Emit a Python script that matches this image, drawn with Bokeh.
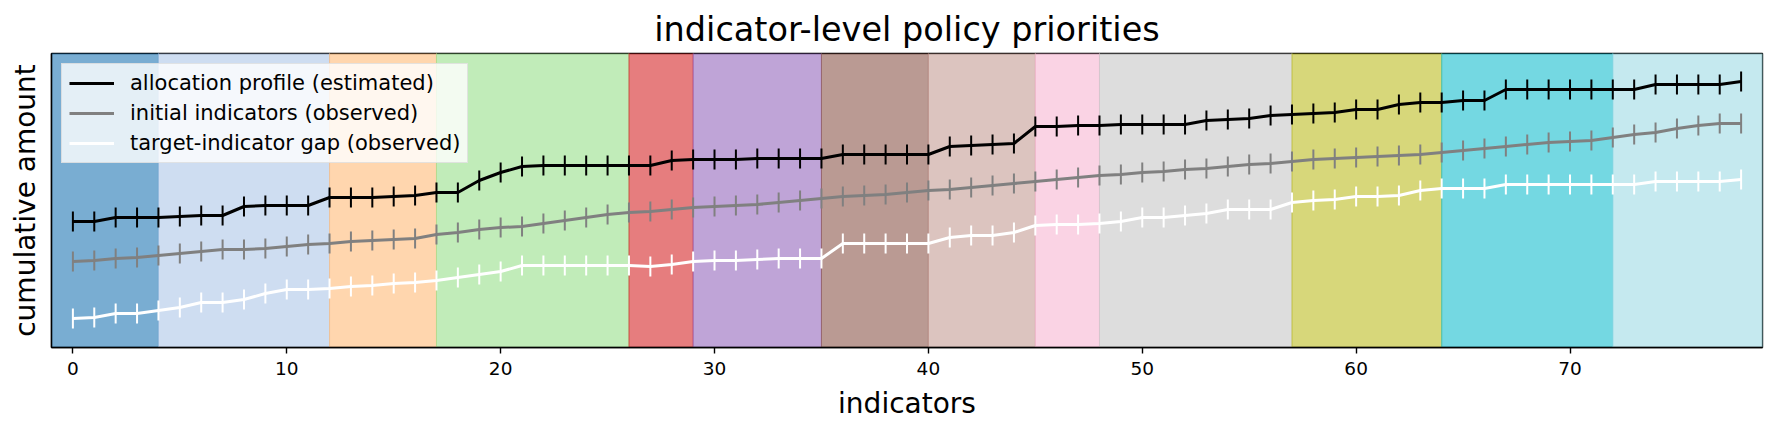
from bokeh.plotting import figure
from bokeh.models import Range1d, FixedTicker, ColumnDataSource
from bokeh.embed import file_html
from bokeh.resources import INLINE

# ---------------- data ----------------
indicators = list(range(79))

allocation_profile = [12.6, 12.6, 13.0, 13.0, 13.0, 13.1, 13.2, 13.2, 14.1, 14.2,
                      14.2, 14.2, 15.0, 15.0, 15.0, 15.1, 15.2, 15.5, 15.5, 16.7,
                      17.5, 18.1, 18.2, 18.2, 18.2, 18.2, 18.2, 18.2, 18.7, 18.8,
                      18.8, 18.8, 18.9, 18.9, 18.9, 18.9, 19.3, 19.3, 19.3, 19.3,
                      19.3, 20.1, 20.2, 20.3, 20.4, 22.1, 22.1, 22.2, 22.2, 22.3,
                      22.3, 22.3, 22.3, 22.7, 22.8, 22.9, 23.2, 23.3, 23.4, 23.5,
                      23.8, 23.8, 24.3, 24.5, 24.5, 24.7, 24.7, 25.8, 25.8, 25.8,
                      25.8, 25.8, 25.8, 25.8, 26.3, 26.3, 26.3, 26.3, 26.6]

initial_indicators = [8.6, 8.7, 8.9, 9.0, 9.2, 9.4, 9.6, 9.8, 9.8, 9.9,
                      10.1, 10.3, 10.4, 10.6, 10.7, 10.8, 10.9, 11.3, 11.5, 11.8,
                      12.0, 12.1, 12.4, 12.7, 13.0, 13.3, 13.5, 13.6, 13.8, 14.0,
                      14.1, 14.2, 14.3, 14.5, 14.7, 14.9, 15.1, 15.2, 15.3, 15.5,
                      15.7, 15.8, 16.0, 16.2, 16.4, 16.6, 16.8, 17.0, 17.2, 17.3,
                      17.5, 17.6, 17.8, 17.9, 18.1, 18.3, 18.4, 18.6, 18.8, 18.9,
                      19.0, 19.1, 19.2, 19.3, 19.5, 19.7, 19.9, 20.1, 20.3, 20.5,
                      20.6, 20.7, 21.0, 21.3, 21.5, 21.9, 22.2, 22.4, 22.4]

target_gap = [2.9, 3.0, 3.4, 3.4, 3.7, 4.0, 4.5, 4.5, 4.8, 5.4,
              5.8, 5.8, 5.9, 6.1, 6.2, 6.4, 6.5, 6.7, 7.0, 7.3,
              7.6, 8.2, 8.2, 8.2, 8.2, 8.2, 8.2, 8.1, 8.3, 8.6,
              8.7, 8.7, 8.8, 8.9, 8.9, 8.9, 10.4, 10.4, 10.4, 10.4,
              10.4, 11.0, 11.2, 11.2, 11.5, 12.2, 12.3, 12.3, 12.4, 12.6,
              13.0, 13.0, 13.2, 13.4, 13.8, 13.8, 13.8, 14.5, 14.7, 14.8,
              15.1, 15.1, 15.2, 15.7, 15.9, 15.9, 15.9, 16.3, 16.3, 16.3,
              16.3, 16.3, 16.3, 16.3, 16.6, 16.6, 16.6, 16.6, 16.8]

error_half_width = 1.0

group_edges = [-1, 4, 12, 17, 26, 29, 35, 40, 45, 48, 57, 64, 72, 79]
group_colors = ["#1f77b4", "#aec7e8", "#ffbb78", "#98df8a", "#d62728", "#9467bd",
                "#8c564b", "#c49c94", "#f7b6d2", "#c7c7c7", "#bcbd22", "#17becf",
                "#9edae5"]

series = [
    ("allocation profile (estimated)", allocation_profile, "black"),
    ("initial indicators (observed)", initial_indicators, "gray"),
    ("target-indicator gap (observed)", target_gap, "white"),
]

tick_values = [0, 10, 20, 30, 40, 50, 60, 70]

# ---------------- figure ----------------
FONT = "DejaVu Sans"

p = figure(frame_width=1711, frame_height=294,
           min_border_left=51, min_border_right=23,
           min_border_top=53, min_border_bottom=87,
           output_backend="svg", toolbar_location=None,
           title="indicator-level policy priorities",
           x_range=Range1d(-1, 79), y_range=Range1d(0, 29.4))

p.title.align = "center"
p.title.text_font = FONT
p.title.text_font_size = "33.5px"
p.title.text_font_style = "normal"
p.title.text_color = "black"
p.title.standoff = 9

p.grid.grid_line_color = None
p.background_fill_color = "white"
p.border_fill_color = "white"
p.outline_line_color = "black"
p.outline_line_width = 1.4

# background bands
bands = ColumnDataSource(dict(left=group_edges[:-1], right=group_edges[1:],
                              color=group_colors))
p.quad(left="left", right="right", bottom=-100, top=100, source=bands,
       fill_color="color", fill_alpha=0.6, line_color="color", line_alpha=0.6,
       line_width=1)

for label, vals, col in series:
    lo = [v - error_half_width for v in vals]
    hi = [v + error_half_width for v in vals]
    p.segment(x0=indicators, y0=lo, x1=indicators, y1=hi, line_color=col,
              line_width=2)
    p.line(indicators, vals, line_color=col, line_width=3, line_join="round",
           legend_label=label)

# axes
p.xaxis.ticker = FixedTicker(ticks=tick_values)
p.xaxis.axis_label = "indicators"
p.xaxis.axis_label_text_font = FONT
p.xaxis.axis_label_text_font_size = "28px"
p.xaxis.axis_label_text_font_style = "normal"
p.xaxis.axis_label_text_color = "black"
p.xaxis.axis_label_standoff = 9
p.xaxis.major_label_text_font = FONT
p.xaxis.major_label_text_font_size = "18.5px"
p.xaxis.major_label_text_color = "black"
p.xaxis.major_label_standoff = 8
p.xaxis.major_tick_out = 6
p.xaxis.major_tick_in = 0
p.xaxis.minor_tick_line_color = None
p.xaxis.major_tick_line_width = 1.4
p.xaxis.axis_line_width = 1.4

p.yaxis.ticker = FixedTicker(ticks=[])
p.yaxis.axis_label = "cumulative amount"
p.yaxis.axis_label_text_font = FONT
p.yaxis.axis_label_text_font_size = "28px"
p.yaxis.axis_label_text_font_style = "normal"
p.yaxis.axis_label_text_color = "black"
p.yaxis.axis_label_standoff = 10
p.yaxis.major_label_standoff = 0
p.yaxis.major_tick_out = 0
p.yaxis.major_tick_in = 0
p.yaxis.minor_tick_line_color = None
p.yaxis.axis_line_width = 1.4

# legend
lg = p.legend[0]
lg.location = "top_left"
lg.margin = 10
lg.padding = 7
lg.spacing = 6
lg.glyph_width = 45
lg.glyph_height = 24
lg.label_height = 24
lg.label_standoff = 16
lg.label_text_font = FONT
lg.label_text_font_size = "21px"
lg.label_text_color = "black"
lg.background_fill_color = "white"
lg.background_fill_alpha = 0.8
lg.border_line_color = "#cccccc"
lg.border_line_width = 1

open("out.html", "w").write(file_html(p, INLINE))
